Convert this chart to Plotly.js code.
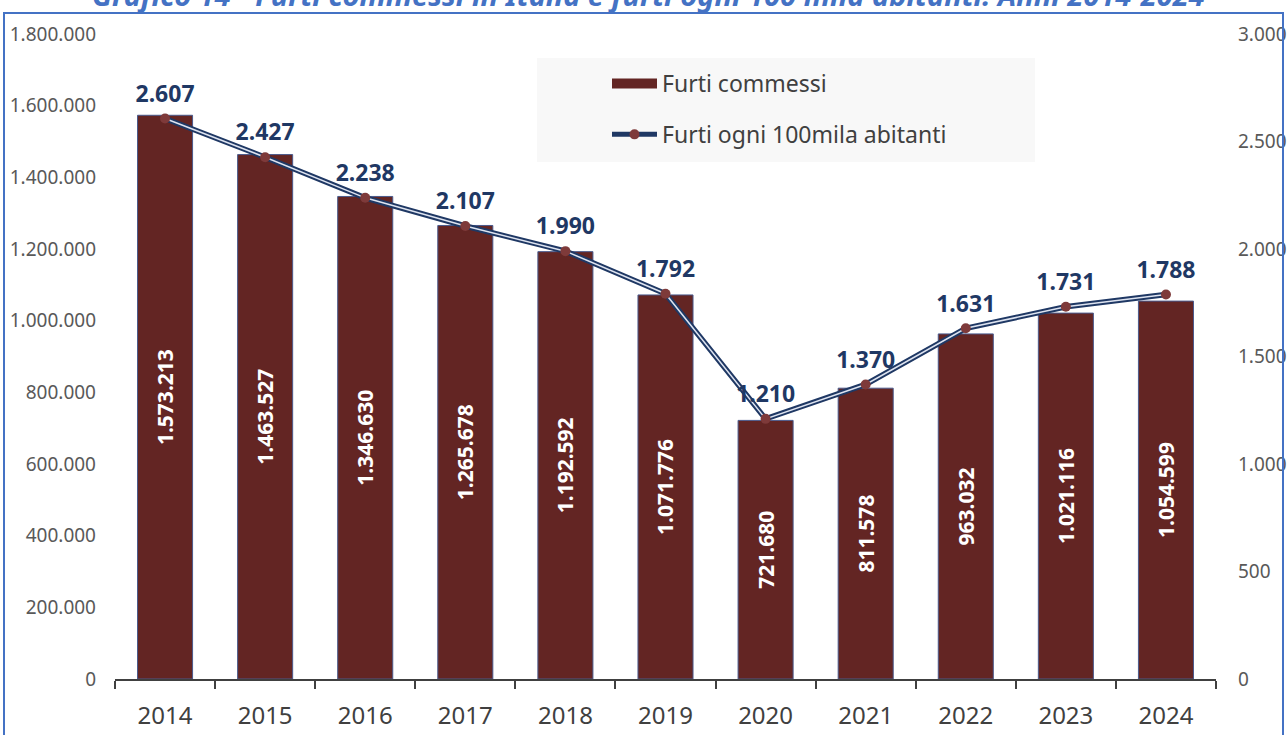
<!DOCTYPE html>
<html>
<head>
<meta charset="utf-8">
<script src="https://cdn.plot.ly/plotly-3.0.1.min.js"></script>
<style>
  html, body { margin: 0; padding: 0; background: #ffffff; }
  #chart { width: 1287px; height: 735px; }
</style>
</head>
<body>
<div id="chart"></div>
<script>
const years = ['2014','2015','2016','2017','2018','2019','2020','2021','2022','2023','2024'];
const furtiCommessi = [1573213,1463527,1346630,1265678,1192592,1071776,721680,811578,963032,1021116,1054599];
const furtiOgni100mila = [2607,2427,2238,2107,1990,1792,1210,1370,1631,1731,1788];
const titleText = 'Grafico 14 - Furti commessi in Italia e furti ogni 100 mila abitanti. Anni 2014-2024';
const leftTicks = [0,200000,400000,600000,800000,1000000,1200000,1400000,1600000,1800000];
const rightTicks = [0,500,1000,1500,2000,2500,3000];
const seriesNames = ['Furti commessi', 'Furti ogni 100mila abitanti'];

const FONT = 'Noto Sans, Open Sans, sans-serif';
const NAVY = '#1F3864';
const BAR = '#632523';
const MARK = '#7E3A3A';

const traces = [
  {
    type: 'bar', x: years, y: furtiCommessi, name: seriesNames[0],
    marker: { color: BAR, line: { color: '#4A5A8C', width: 1 } },
    text: furtiCommessi, texttemplate: '%{y:,.0f}',
    textposition: 'inside', insidetextanchor: 'middle', textangle: -90,
    constraintext: 'none',
    textfont: { family: FONT, size: 21, color: '#ffffff', weight: 'bold' },
    showlegend: false
  },
  {
    type: 'scatter', mode: 'lines', x: years, y: furtiOgni100mila, yaxis: 'y2',
    line: { color: NAVY, width: 5.5 }, showlegend: false
  },
  {
    type: 'scatter', mode: 'lines', x: years, y: furtiOgni100mila, yaxis: 'y2',
    line: { color: '#DDE3F0', width: 1.5 }, showlegend: false
  },
  {
    type: 'scatter', mode: 'markers', x: years, y: furtiOgni100mila, yaxis: 'y2',
    marker: { color: MARK, size: 10 }, showlegend: false
  },
  {
    type: 'scatter', mode: 'markers+text', x: years, y: furtiOgni100mila, yaxis: 'y2',
    marker: { color: 'rgba(0,0,0,0)', size: 16 },
    text: furtiOgni100mila, texttemplate: '%{y:,.0f}', textposition: 'top center',
    textfont: { family: FONT, size: 23, color: NAVY, weight: 'bold' },
    showlegend: false
  },
  // legend-only entries
  {
    type: 'scatter', mode: 'lines', x: [null], y: [null], name: seriesNames[0],
    line: { color: BAR, width: 14 }, legendgroup: 'a', showlegend: true
  },
  {
    type: 'scatter', mode: 'lines+markers', x: [null], y: [null], yaxis: 'y2', name: seriesNames[1],
    line: { color: NAVY, width: 5 }, marker: { color: MARK, size: 10 },
    legendgroup: 'b', showlegend: true
  }
];

const L = 115, R = 71, T = 34, B = 56, W = 1287, H = 735;
const pw = W - L - R, ph = H - T - B;
const px = v => (v - L) / pw;
const py = v => (H - B - v) / ph;

const layout = {
  width: W, height: H,
  margin: { l: L, r: R, t: T, b: B, pad: 0 },
  paper_bgcolor: '#ffffff', plot_bgcolor: '#ffffff',
  separators: ',.',
  font: { family: FONT, color: '#404040' },
  bargap: 0.45,
  hovermode: false,
  showlegend: true,
  legend: {
    x: px(607), y: py(62), xanchor: 'left', yanchor: 'top',
    bgcolor: 'rgba(0,0,0,0)', borderwidth: 0,
    font: { family: FONT, size: 23, color: '#404040' },
    itemwidth: 45, tracegroupgap: 18
  },
  xaxis: {
    type: 'category', range: [-0.5, 10.5], autorange: false,
    showgrid: false, zeroline: false,
    showline: true, linecolor: '#404040', linewidth: 2,
    ticks: 'outside', tickson: 'boundaries', ticklen: 8, tickwidth: 2, tickcolor: '#404040',
    ticklabelstandoff: 14,
    tickfont: { family: FONT, size: 24, color: '#404040' },
    fixedrange: true
  },
  yaxis: {
    range: [0, 1800000], autorange: false, tickvals: leftTicks, tickformat: ',.0f',
    showgrid: false, zeroline: false, showline: false, ticks: '',
    ticklabelstandoff: 18,
    tickfont: { family: FONT, size: 19, color: '#595959' },
    fixedrange: true
  },
  yaxis2: {
    overlaying: 'y', side: 'right', range: [0, 3000], autorange: false,
    tickvals: rightTicks, tickformat: ',.0f',
    showgrid: false, zeroline: false, showline: false, ticks: '',
    ticklabelstandoff: 21,
    tickfont: { family: FONT, size: 19, color: '#595959' },
    fixedrange: true
  },
  shapes: [
    { type: 'rect', xref: 'paper', yref: 'paper', layer: 'below',
      x0: px(537), x1: px(1035), y0: py(162), y1: py(58),
      fillcolor: '#F8F8F8', line: { width: 0 } },
    { type: 'rect', xref: 'paper', yref: 'paper', layer: 'above',
      x0: px(4), x1: px(1283), y0: py(745), y1: py(13),
      fillcolor: 'rgba(0,0,0,0)', line: { color: '#4472C4', width: 2 } }
  ],
  annotations: [
    { xref: 'paper', yref: 'paper', x: px(648), y: 1, xanchor: 'center', yanchor: 'bottom',
      yshift: 18, showarrow: false, text: titleText,
      font: { family: FONT, size: 29, color: '#4472C4', weight: 'bold', style: 'italic' } }
  ]
};

Plotly.newPlot('chart', traces, layout, { displayModeBar: false, staticPlot: true });
</script>
</body>
</html>
